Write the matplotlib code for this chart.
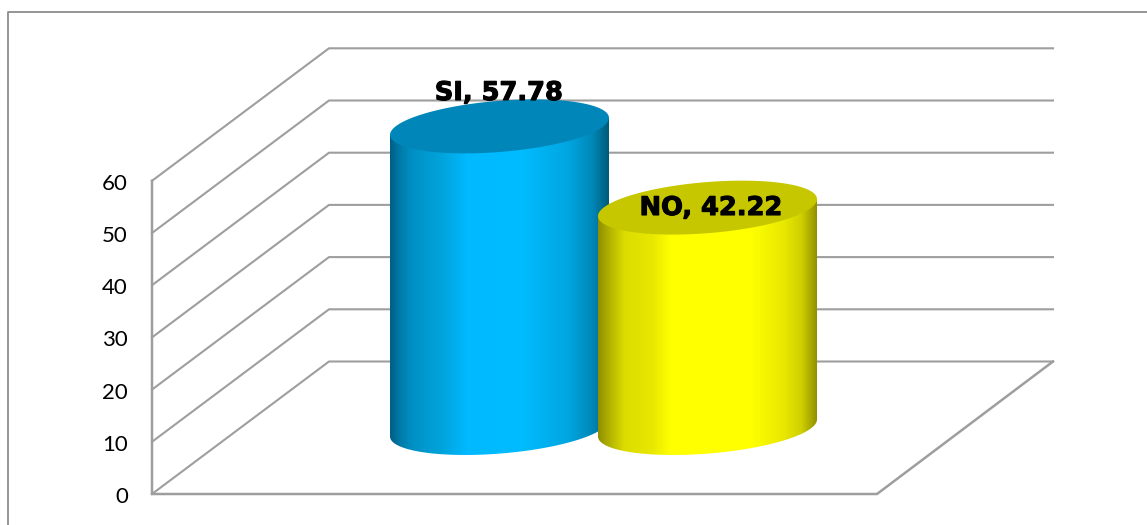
import matplotlib
matplotlib.use('Agg')
import matplotlib.pyplot as plt
import matplotlib.patheffects as pe
from matplotlib.colors import LinearSegmentedColormap
from matplotlib.patches import PathPatch, Polygon
from matplotlib.path import Path
import numpy as np

categories = ['SI', 'NO']
values = [57.78, 42.22]
ticks = [0, 10, 20, 30, 40, 50, 60]

# layout, in pixels of the 1147x525 picture
W, H = 1147, 525
Y0 = 494        # pixel of value 0 on the front axis
S = 5.22        # pixels per unit
WALL_X, BACK_X, FLOOR_X, BACK_END = 152, 329, 877, 1053
BACK_DY = 132.5 / S
BAR_LEFT = [390, 598]
BAR_W = 219
BASE = 66 / S   # bars stand this far up on the floor
K, B = 8.5 / S, 25.6 / S

GRID = '#9e9e9e'
side_stops = [
    [(0, '#005f85'), (0.04, '#0078a6'), (0.1, '#0090c4'), (0.25, '#00a6de'), (0.35, '#00b9ff'),
     (0.6, '#00bcff'), (0.82, '#00a5e0'), (0.93, '#0086b5'), (1, '#005a78')],
    [(0, '#8f8f00'), (0.06, '#b8b800'), (0.12, '#dcdc00'), (0.25, '#e8e800'), (0.33, '#ffff00'),
     (0.7, '#ffff00'), (0.85, '#e8e800'), (0.93, '#d0d000'), (1, '#929200')],
]
top_colors = ['#0086b8', '#c7c700']

plt.rcParams['font.family'] = ['Lato', 'DejaVu Sans']
fig = plt.figure(figsize=(W / 100, H / 100), dpi=100)
ax = fig.add_axes([0, 0, 1, 1])
ax.set_axis_off()

# outer frame
ax.plot([8, 8, W], [(Y0 - H) / S, (Y0 - 12) / S, (Y0 - 12) / S], color='#8c8c8c', lw=1.3)

# walls and floor
ax.plot([WALL_X, WALL_X, FLOOR_X, BACK_END],
        [ticks[-1], 0, 0, BACK_DY], color=GRID, lw=1.8, solid_joinstyle='miter')
for t in ticks:
    ax.plot([WALL_X, BACK_X, BACK_END], [t, t + BACK_DY, t + BACK_DY], color=GRID, lw=1.5)
    ax.text(128, t - 3 / S, str(t), ha='right', va='center', fontsize=16, color='black')

# cylinders
theta = np.linspace(0, np.pi, 80)
for i in range(len(categories)):
    a = BAR_W / 2
    cx = BAR_LEFT[i] + a
    top = BASE + values[i]
    # lower half of the bottom rim
    low_x = cx + a * np.cos(theta)
    low_y = BASE - B * np.sin(theta) + K * np.cos(theta)
    side = np.column_stack([
        np.r_[low_x, BAR_LEFT[i], BAR_LEFT[i] + BAR_W],
        np.r_[low_y, top + K * -1, top + K],
    ])
    cmap = LinearSegmentedColormap.from_list('side%d' % i, side_stops[i])
    im = ax.imshow(np.linspace(0, 1, 256).reshape(1, -1), cmap=cmap, aspect='auto',
                   extent=[BAR_LEFT[i], BAR_LEFT[i] + BAR_W, BASE - 2 * B, top + 2 * B],
                   zorder=3 + i, interpolation='bilinear')
    poly = Polygon(side, closed=True, facecolor='none', edgecolor='none', transform=ax.transData)
    ax.add_patch(poly)
    im.set_clip_path(poly)
    # top ellipse
    t = np.linspace(0, 2 * np.pi, 160)
    ell = np.column_stack([cx + a * np.cos(t), top + B * np.sin(t) + K * np.cos(t)])
    ax.add_patch(PathPatch(Path(ell), facecolor=top_colors[i], edgecolor='none', zorder=3 + i))

# data labels, pixel centres of the text
label_x = [499, 711]
label_py = [90, 205]
for i in range(len(categories)):
    ax.text(label_x[i], (Y0 - label_py[i]) / S, '%s, %.2f' % (categories[i], values[i]),
            ha='center', va='center_baseline', fontsize=18.5, fontweight='bold', color='black',
            family=['DejaVu Sans'], zorder=10,
            path_effects=[pe.withStroke(linewidth=0.8, foreground='black')])

ax.set_xlim(0, W)
ax.set_ylim((Y0 - H) / S, Y0 / S)
fig.savefig('out.png', dpi=100, facecolor='white')
